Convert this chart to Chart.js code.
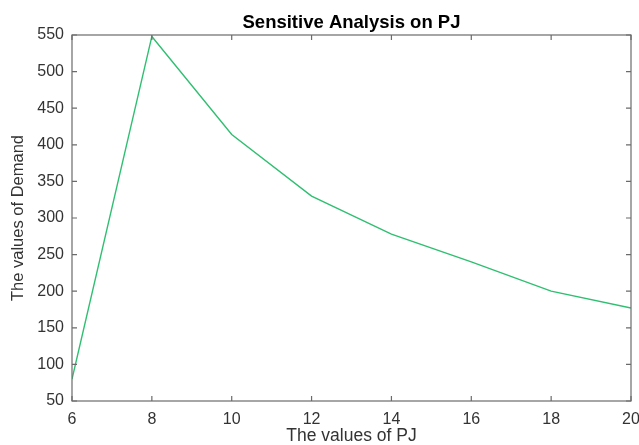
<!DOCTYPE html>
<html>
<head>
<meta charset="utf-8">
<style>
  html, body { margin: 0; padding: 0; background: #fff; }
  #wrap { width: 639px; height: 445px; }
</style>
<script src="https://cdn.jsdelivr.net/npm/chart.js@4/dist/chart.umd.min.js"></script>
</head>
<body>
<div id="wrap"><canvas id="c" width="639" height="445"></canvas></div>
<script>
const pjValues = [6, 8, 10, 12, 14, 16, 18, 20];
const demandValues = [80, 548, 414, 330, 278, 240, 200, 177];
const xTicks = [6, 8, 10, 12, 14, 16, 18, 20];
const yTicks = [50, 100, 150, 200, 250, 300, 350, 400, 450, 500, 550];
const chartTitle = 'Sensitive Analysis on PJ';
const xTitle = 'The values of PJ';
const yTitle = 'The values of Demand';

const FONT = '"Liberation Sans", Arial, Helvetica, sans-serif';
const AXIS = '#6b6b6b';

const boxPlugin = {
  id: 'boxPlugin',
  afterDraw(chart) {
    const { ctx, chartArea: a, scales } = chart;
    ctx.save();
    ctx.strokeStyle = AXIS;
    ctx.lineWidth = 1.2;
    ctx.strokeRect(a.left, a.top, a.right - a.left, a.bottom - a.top);
    const tl = 5;
    ctx.beginPath();
    xTicks.forEach(v => {
      const px = scales.x.getPixelForValue(v);
      ctx.moveTo(px, a.bottom); ctx.lineTo(px, a.bottom - tl);
      ctx.moveTo(px, a.top); ctx.lineTo(px, a.top + tl);
    });
    yTicks.forEach(v => {
      const py = scales.y.getPixelForValue(v);
      ctx.moveTo(a.left, py); ctx.lineTo(a.left + tl, py);
      ctx.moveTo(a.right, py); ctx.lineTo(a.right - tl, py);
    });
    ctx.stroke();
    ctx.fillStyle = '#000';
    ctx.font = 'bold 18.5px ' + FONT;
    ctx.textAlign = 'center';
    ctx.textBaseline = 'middle';
    ctx.fillText(chartTitle, (a.left + a.right) / 2, 23);
    ctx.restore();
  }
};

new Chart(document.getElementById('c'), {
  type: 'line',
  data: {
    datasets: [{
      data: pjValues.map((x, i) => ({ x: x, y: demandValues[i] })),
      borderColor: '#2fbf71',
      borderWidth: 1.4,
      pointRadius: 0,
      tension: 0,
      fill: false
    }]
  },
  options: {
    responsive: false,
    animation: false,
    layout: { padding: { left: 0, right: 8, top: 35, bottom: 0 } },
    plugins: { legend: { display: false }, title: { display: false }, tooltip: { enabled: false } },
    scales: {
      x: {
        type: 'linear',
        min: 6, max: 20,
        afterBuildTicks: s => { s.ticks = xTicks.map(v => ({ value: v })); },
        afterFit: s => { s.height = 44; s.paddingLeft = 0; s.paddingRight = 0; },
        grid: { display: false, drawTicks: false },
        border: { display: false },
        ticks: { color: '#333', font: { family: FONT, size: 16 }, padding: 9, maxRotation: 0 },
        title: { display: true, text: xTitle, color: '#333', font: { family: FONT, size: 17.5 }, padding: { top: 0, bottom: -2 } }
      },
      y: {
        type: 'linear',
        min: 50, max: 550,
        afterBuildTicks: s => { s.ticks = yTicks.map(v => ({ value: v })); },
        afterFit: s => { s.width = 72; s.paddingTop = 0; s.paddingBottom = 0; },
        grid: { display: false, drawTicks: false },
        border: { display: false },
        ticks: { color: '#333', font: { family: FONT, size: 16 }, padding: 8 },
        title: { display: true, text: yTitle, color: '#333', font: { family: FONT, size: 16.5 }, padding: { top: 9, bottom: 0 } }
      }
    }
  },
  plugins: [boxPlugin]
});
</script>
</body>
</html>
